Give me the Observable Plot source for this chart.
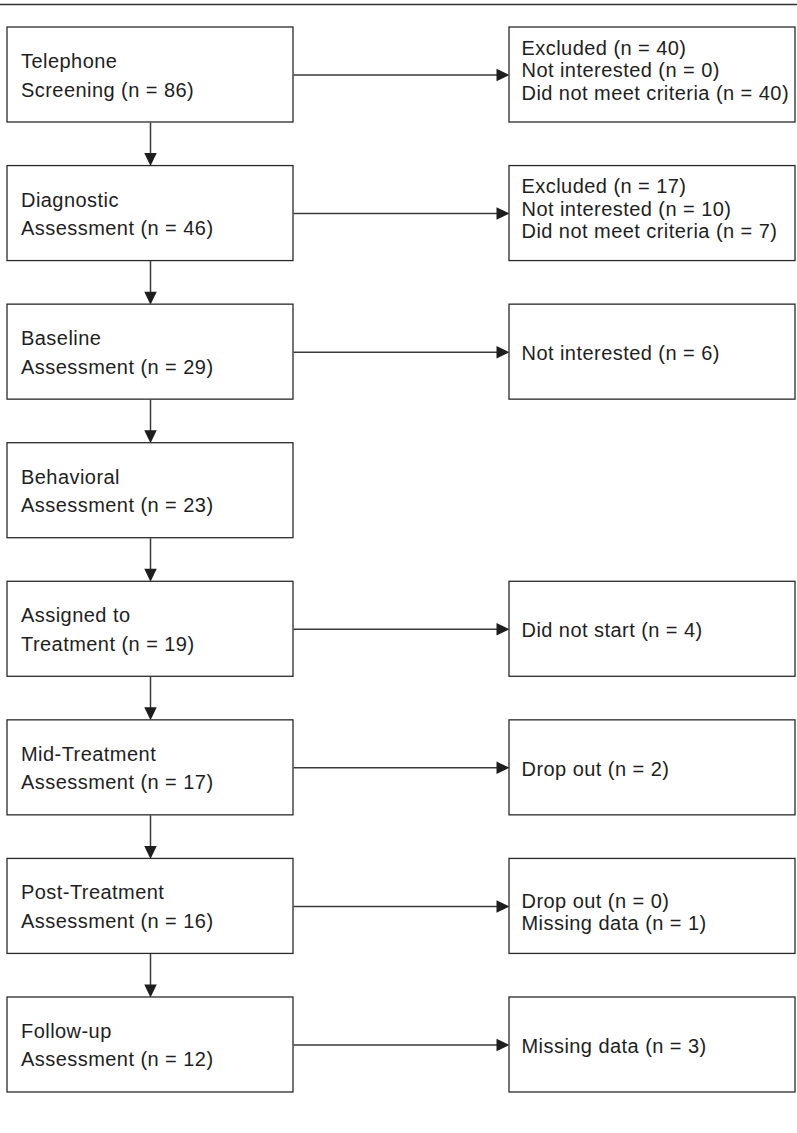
<!DOCTYPE html>
<html>
<head>
<meta charset="utf-8">
<script src="https://cdn.jsdelivr.net/npm/d3@7"></script>
<script src="https://cdn.jsdelivr.net/npm/@observablehq/plot@0.6"></script>
<style>
  html, body { margin: 0; padding: 0; background: #fff; }
  #chart svg { display: block; }
  #chart text { letter-spacing: 0.45px; }
</style>
</head>
<body>
<div id="chart"></div>
<script>
// ---- data ----
const stageTitles = ["Telephone", "Diagnostic", "Baseline", "Behavioral", "Assigned to", "Mid-Treatment", "Post-Treatment", "Follow-up"];
const stageSubtitles = ["Screening", "Assessment", "Assessment", "Assessment", "Treatment", "Assessment", "Assessment", "Assessment"];
const stageN = [86, 46, 29, 23, 19, 17, 16, 12];
const outcomeLabels = [
  ["Excluded", "Not interested", "Did not meet criteria"],
  ["Excluded", "Not interested", "Did not meet criteria"],
  ["Not interested"],
  [],
  ["Did not start"],
  ["Drop out"],
  ["Drop out", "Missing data"],
  ["Missing data"]
];
const outcomeN = [
  [40, 0, 40],
  [17, 10, 7],
  [6],
  [],
  [4],
  [2],
  [0, 1],
  [3]
];

// ---- layout ----
const W = 797, H = 1133;
const rowTop = i => 27 + i * 138.57;
const boxH = 95;
const center = i => rowTop(i) + boxH / 2;
const leftBox = {x1: 7, x2: 293};
const rightBox = {x1: 509, x2: 795};
const padX = 13;
const fontSize = 20;
const rightStep = 22.5;
const ink = "#1e1e1e";
const lineInk = "#3a3a3a";

const boxes = [];
const texts = [];
const links = [];
const headsDown = [];
const headsRight = [];

stageTitles.forEach((title, i) => {
  const c = center(i);
  boxes.push({...leftBox, y1: rowTop(i), y2: rowTop(i) + boxH});
  const leftLines = [title, `${stageSubtitles[i]} (n = ${stageN[i]})`];
  leftLines.forEach((t, j) => texts.push({x: leftBox.x1 + padX + 0.5, y: c - 7 + 28.5 * j, text: t}));

  const labels = outcomeLabels[i];
  if (labels.length) {
    boxes.push({...rightBox, y1: rowTop(i), y2: rowTop(i) + boxH});
    const n = labels.length;
    const start = n === 3 ? 2.2 - rightStep : n === 2 ? 1.5 : 8;
    labels.forEach((lab, j) => texts.push({x: rightBox.x1 + padX - 1, y: c + start + rightStep * j, text: `${lab} (n = ${outcomeN[i][j]})`}));
    links.push({x1: leftBox.x2, y1: c, x2: rightBox.x1 - 11, y2: c});
    headsRight.push({x: rightBox.x1, y: c});
  }
  if (i < stageTitles.length - 1) {
    const cx = (leftBox.x1 + leftBox.x2) / 2;
    links.push({x1: cx, y1: rowTop(i) + boxH, x2: cx, y2: rowTop(i + 1) - 11});
    headsDown.push({x: cx, y: rowTop(i + 1)});
  }
});

// custom filled arrowhead symbols, tip at origin
const headDown = {draw(ctx, size) { const s = Math.sqrt(size); ctx.moveTo(0, 0); ctx.lineTo(-s * 0.48, -s); ctx.lineTo(s * 0.48, -s); ctx.closePath(); }};
const headRight = {draw(ctx, size) { const s = Math.sqrt(size); ctx.moveTo(0, 0); ctx.lineTo(-s, -s * 0.48); ctx.lineTo(-s, s * 0.48); ctx.closePath(); }};
const headR = 13 / Math.sqrt(Math.PI);

const chart = Plot.plot({
  width: W,
  height: H,
  margin: 0,
  x: {domain: [0, W], range: [0, W], axis: null},
  y: {domain: [0, H], range: [0, H], axis: null},
  style: {fontFamily: "'Liberation Sans', Arial, Helvetica, sans-serif", background: "#fff", overflow: "visible"},
  marks: [
    Plot.ruleY([4], {x1: 0, x2: W, stroke: "#333", strokeWidth: 1.4}),
    Plot.link(links, {x1: "x1", y1: "y1", x2: "x2", y2: "y2", stroke: lineInk, strokeWidth: 1.5}),
    Plot.dot(headsDown, {x: "x", y: "y", r: headR, symbol: headDown, fill: ink, stroke: null}),
    Plot.dot(headsRight, {x: "x", y: "y", r: headR, symbol: headRight, fill: ink, stroke: null}),
    Plot.rect(boxes, {x1: "x1", x2: "x2", y1: "y1", y2: "y2", fill: "#fff", stroke: "#2a2a2a", strokeWidth: 1.3}),
    Plot.text(texts, {x: "x", y: "y", text: "text", textAnchor: "start", lineAnchor: "bottom", fontSize, fill: ink})
  ]
});
document.getElementById("chart").appendChild(chart);
</script>
</body>
</html>
